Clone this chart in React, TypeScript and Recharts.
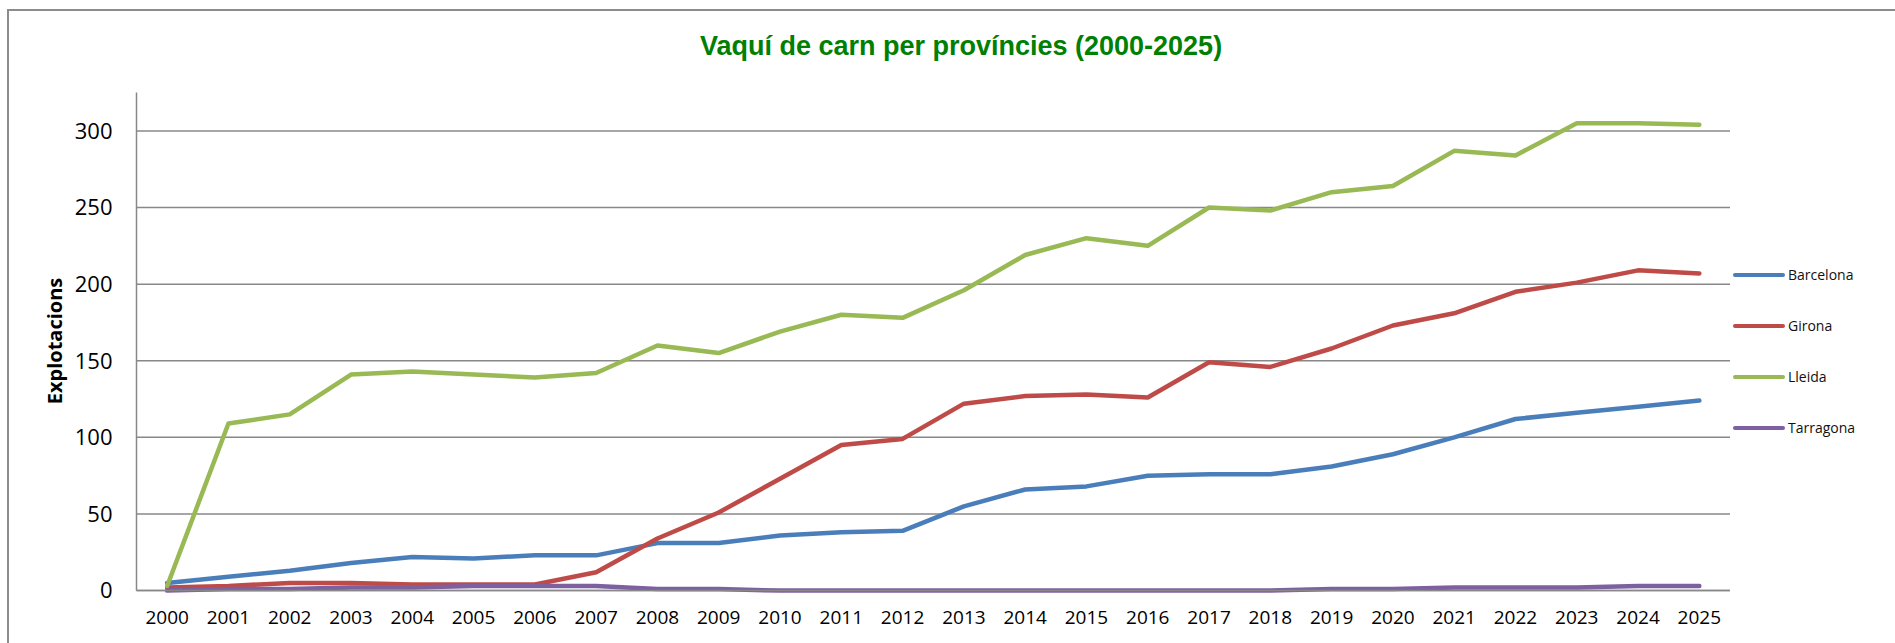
import { LineChart, Line, XAxis, YAxis, CartesianGrid, Legend } from 'recharts';

const years = [
  2000, 2001, 2002, 2003, 2004, 2005, 2006, 2007, 2008, 2009, 2010, 2011, 2012,
  2013, 2014, 2015, 2016, 2017, 2018, 2019, 2020, 2021, 2022, 2023, 2024, 2025,
];
const barcelona = [5, 9, 13, 18, 22, 21, 23, 23, 31, 31, 36, 38, 39, 55, 66, 68, 75, 76, 76, 81, 89, 100, 112, 116, 120, 124];
const girona = [2, 3, 5, 5, 4, 4, 4, 12, 34, 51, 73, 95, 99, 122, 127, 128, 126, 149, 146, 158, 173, 181, 195, 201, 209, 207];
const lleida = [3, 109, 115, 141, 143, 141, 139, 142, 160, 155, 169, 180, 178, 196, 219, 230, 225, 250, 248, 260, 264, 287, 284, 305, 305, 304];
const tarragona = [0, 1, 1, 2, 2, 3, 3, 3, 1, 1, 0, 0, 0, 0, 0, 0, 0, 0, 0, 1, 1, 2, 2, 2, 3, 3];
const yTicks = [0, 50, 100, 150, 200, 250, 300];

const series = [
  { key: 'Barcelona', values: barcelona, color: '#4a7ebb' },
  { key: 'Girona', values: girona, color: '#be4b48' },
  { key: 'Lleida', values: lleida, color: '#98b954' },
  { key: 'Tarragona', values: tarragona, color: '#7d60a0' },
];

const data = years.map((year, i) => {
  const row: Record<string, number> = { year };
  series.forEach((s) => {
    row[s.key] = s.values[i];
  });
  return row;
});

const font = '"Open Sans", sans-serif';

const renderLegend = (props: any) => {
  const items = props.payload || [];
  return (
    <div style={{ fontFamily: font, fontSize: 14, color: '#111' }}>
      {items.map((entry: any) => (
        <div key={entry.value} style={{ height: 51, display: 'flex', alignItems: 'center' }}>
          <div style={{ width: 52, height: 4, borderRadius: 2, background: entry.color, marginRight: 3 }} />
          <span>{entry.value}</span>
        </div>
      ))}
    </div>
  );
};

export default function App() {
  return (
    <div style={{ position: 'absolute', left: 0, top: 0, width: 1895, height: 643, background: '#fff', overflow: 'hidden' }}>
      <div
        style={{
          position: 'absolute',
          left: 7,
          top: 9,
          right: -10,
          bottom: -10,
          borderTop: '2px solid #8c8c8c',
          borderLeft: '2px solid #8c8c8c',
        }}
      />
      <div
        style={{
          position: 'absolute',
          left: 961,
          top: 46,
          transform: 'translate(-50%, -50%)',
          whiteSpace: 'nowrap',
          fontFamily: '"Liberation Sans", Arial, sans-serif',
          fontWeight: 'bold',
          fontSize: 27,
          color: '#008000',
        }}
      >
        Vaquí de carn per províncies (2000-2025)
      </div>
      <div
        style={{
          position: 'absolute',
          left: 54,
          top: 341,
          transform: 'translate(-50%, -50%) rotate(-90deg)',
          whiteSpace: 'nowrap',
          fontFamily: font,
          fontWeight: 'bold',
          fontSize: 20,
          color: '#000',
        }}
      >
        Explotacions
      </div>
      <LineChart
        width={1895}
        height={643}
        data={data}
        margin={{ top: 92.6, right: 165, bottom: 22.4, left: 36.5 }}
        style={{ position: 'absolute', left: 0, top: 0 }}
      >
        <CartesianGrid vertical={false} horizontalValues={yTicks} stroke="#888" strokeWidth={1.5} />
        <XAxis
          dataKey="year"
          interval={0}
          height={30}
          padding={{ left: 30.65, right: 30.65 }}
          axisLine={{ stroke: '#888', strokeWidth: 1.5 }}
          tickLine={false}
          tickSize={0}
          tickMargin={20}
          tick={{ fill: '#000', fontSize: 19, fontFamily: font }}
        />
        <YAxis
          width={100}
          domain={[0, 325]}
          ticks={yTicks}
          interval={0}
          axisLine={{ stroke: '#888', strokeWidth: 1.5 }}
          tickLine={false}
          tickSize={0}
          tickMargin={24}
          tick={{ fill: '#000', fontSize: 22, fontFamily: font }}
        />
        <Legend
          layout="vertical"
          align="center"
          verticalAlign="middle"
          content={renderLegend}
          wrapperStyle={{ left: 1733, top: 249, width: 160 }}
        />
        {series.map((s) => (
          <Line
            key={s.key}
            type="linear"
            dataKey={s.key}
            stroke={s.color}
            strokeWidth={4.5}
            strokeLinecap="round"
            strokeLinejoin="round"
            dot={false}
            activeDot={false}
            isAnimationActive={false}
          />
        ))}
      </LineChart>
    </div>
  );
}
